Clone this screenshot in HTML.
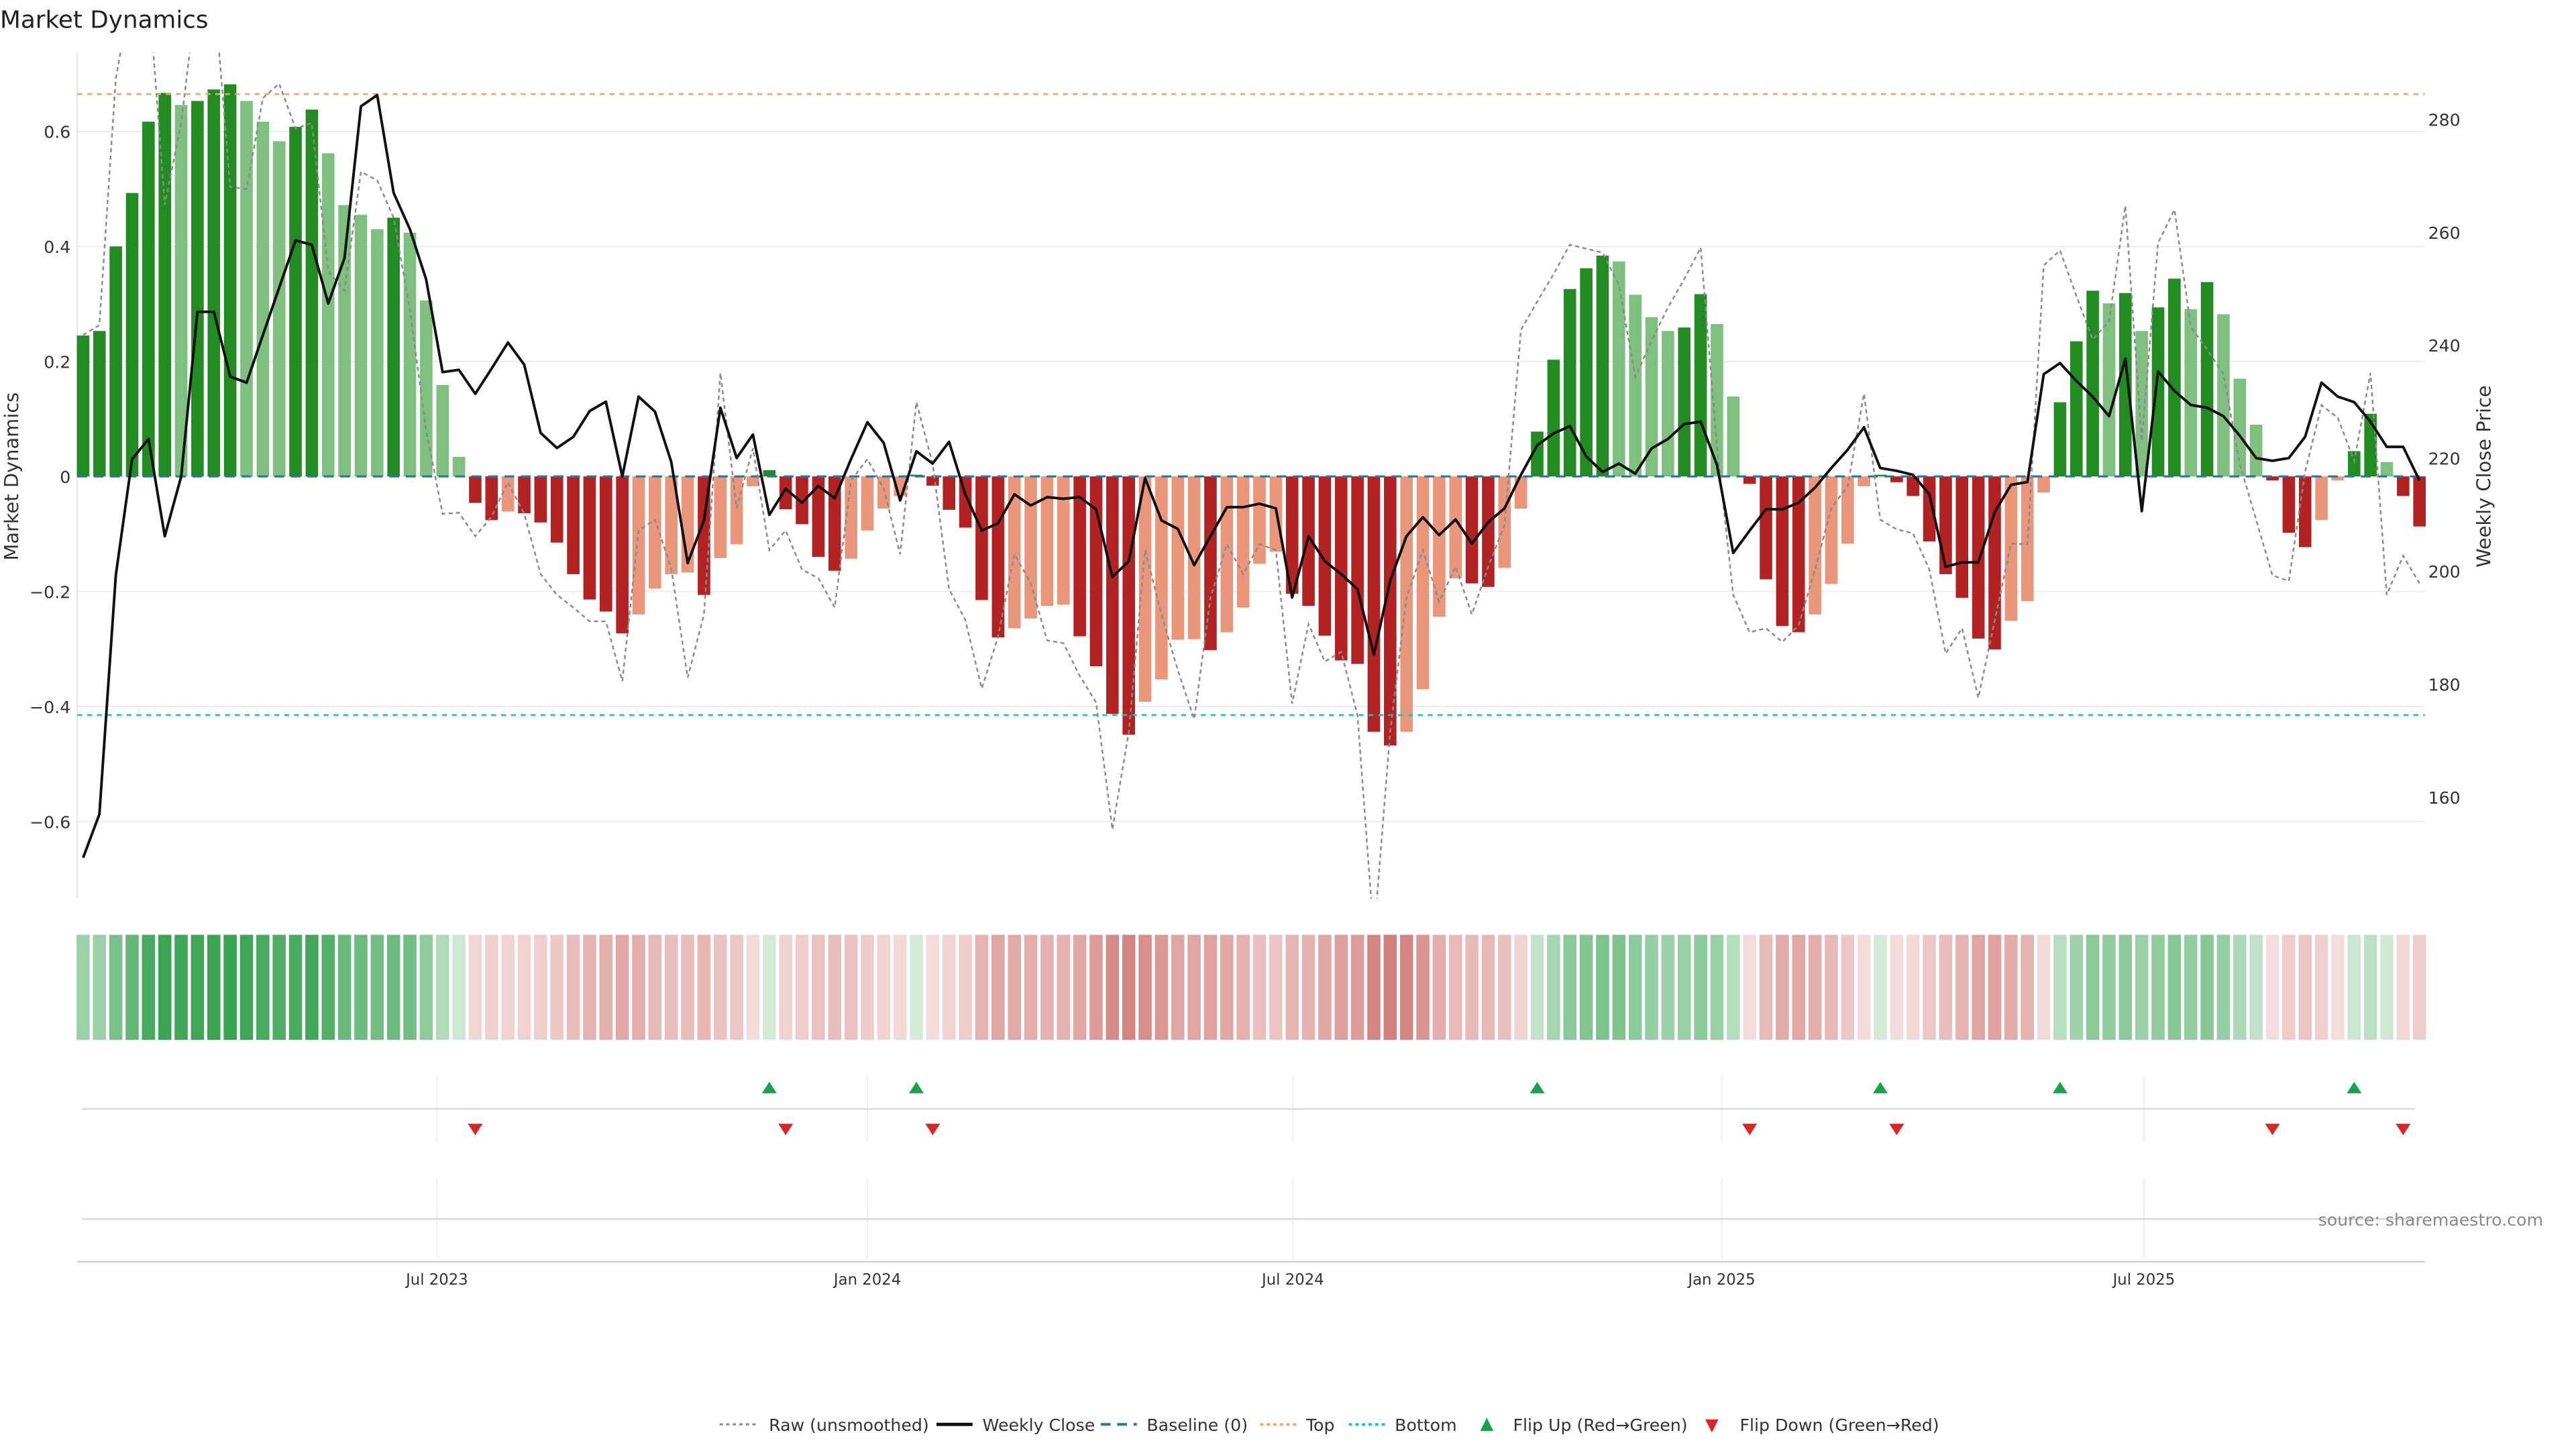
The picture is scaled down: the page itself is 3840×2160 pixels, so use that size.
<!DOCTYPE html>
<html><head><meta charset="utf-8"><style>
html,body{margin:0;padding:0;background:#fff;width:3840px;height:2160px;overflow:hidden}
svg{display:block}
text{font-family:"DejaVu Sans","Liberation Sans",sans-serif;fill:#333}
</style></head><body>
<svg id="s" width="3840" height="2160" viewBox="0 0 1568 882" preserveAspectRatio="none" xmlns="http://www.w3.org/2000/svg">
<defs><clipPath id="cp"><rect x="47" y="32" width="1429" height="515"/></clipPath></defs>
<rect width="1568" height="882" fill="#fff"/>
<text x="0" y="17" font-size="14.6" style="fill:#222">Market Dynamics</text>
<g id="grid"></g>
<g id="bars"></g>
<g id="lines" clip-path="url(#cp)"></g>
<g id="heat"></g>
<g id="flips"></g>
<g font-size="10.3" text-anchor="end">
<text x="43" y="84">0.6</text><text x="43" y="154">0.4</text><text x="43" y="224">0.2</text><text x="43" y="294">0</text>
<text x="43" y="364">−0.2</text><text x="43" y="434">−0.4</text><text x="43" y="504">−0.6</text>
</g>
<g font-size="10.3">
<text x="1478" y="76.5">280</text><text x="1478" y="145.3">260</text><text x="1478" y="214">240</text><text x="1478" y="282.8">220</text>
<text x="1478" y="351.6">200</text><text x="1478" y="420.4">180</text><text x="1478" y="489.2">160</text>
</g>
<text transform="translate(11,290) rotate(-90)" font-size="11.8" text-anchor="middle">Market Dynamics</text>
<text transform="translate(1516,290) rotate(-90)" font-size="11.8" text-anchor="middle">Weekly Close Price</text>
<g font-size="9.3" text-anchor="middle">
<text x="266" y="782">Jul 2023</text><text x="528" y="782">Jan 2024</text><text x="787" y="782">Jul 2024</text>
<text x="1048" y="782">Jan 2025</text><text x="1305" y="782">Jul 2025</text>
</g>
<text x="1548" y="746" font-size="10.3" text-anchor="end" style="fill:#888">source: sharemaestro.com</text>
<g font-size="10.3">
<line x1="438" y1="867" x2="462" y2="867" stroke="#888" stroke-width="1.2" stroke-dasharray="2,2"/>
<text x="468" y="871">Raw (unsmoothed)</text>
<line x1="570" y1="867" x2="592" y2="867" stroke="#111" stroke-width="2"/>
<text x="598" y="871">Weekly Close</text>
<line x1="670" y1="867" x2="692" y2="867" stroke="#1f77b4" stroke-width="1.6" stroke-dasharray="6,4"/>
<text x="698" y="871">Baseline (0)</text>
<line x1="767" y1="867" x2="789" y2="867" stroke="#f4a460" stroke-width="1.4" stroke-dasharray="2,2"/>
<text x="795" y="871">Top</text>
<line x1="821" y1="867" x2="843" y2="867" stroke="#17becf" stroke-width="1.4" stroke-dasharray="2,2"/>
<text x="849" y="871">Bottom</text>
<path d="M901,871 L909,871 L905,863 Z" fill="#16a34a"/>
<text x="921" y="871">Flip Up (Red→Green)</text>
<path d="M1038,864 L1046,864 L1042,872 Z" fill="#dc2626"/>
<text x="1059" y="871">Flip Down (Green→Red)</text>
</g>
</svg>
<script>
var NS="http://www.w3.org/2000/svg";
function el(p,t,a){var e=document.createElementNS(NS,t);for(var k in a)e.setAttribute(k,a[k]);p.appendChild(e);return e;}
var vals=[0.245,0.253,0.40,0.493,0.617,0.667,0.646,0.653,0.673,0.682,0.653,0.617,0.583,0.608,0.638,0.562,0.472,0.455,0.43,0.45,0.424,0.306,0.159,0.034,
-0.046,-0.076,-0.061,-0.064,-0.08,-0.115,-0.17,-0.214,-0.235,-0.273,-0.24,-0.195,-0.17,-0.167,-0.206,-0.142,-0.118,-0.017,0.011,-0.057,-0.083,-0.14,-0.164,-0.143,-0.094,-0.056,-0.034,0.003,-0.016,-0.058,-0.089,-0.215,-0.28,-0.264,-0.247,-0.225,-0.223,-0.278,-0.33,-0.413,-0.449,-0.392,-0.353,-0.284,-0.283,-0.302,-0.271,-0.228,-0.152,-0.131,-0.204,-0.225,-0.277,-0.32,-0.326,-0.444,-0.468,-0.444,-0.37,-0.244,-0.177,-0.186,-0.192,-0.159,-0.056,0.078,0.203,0.326,0.362,0.384,0.374,0.316,0.277,0.253,0.259,0.317,0.265,0.139,-0.013,-0.179,-0.26,-0.271,-0.24,-0.187,-0.117,-0.017,0.003,-0.01,-0.034,-0.113,-0.17,-0.211,-0.282,-0.301,-0.251,-0.217,-0.028,0.129,0.235,0.323,0.301,0.319,0.253,0.294,0.344,0.291,0.338,0.282,0.17,0.09,-0.007,-0.098,-0.123,-0.076,-0.007,0.044,0.109,0.025,-0.034,-0.087];
var light=[6,10,11,12,15,16,17,18,20,21,22,23,26,34,35,36,37,39,40,41,47,48,49,50,57,58,59,60,65,66,67,68,70,71,72,73,81,82,83,84,87,88,94,95,96,97,100,101,106,107,108,109,118,119,120,124,126,129,131,132,133,137,138,141];
var blk=[1466,1388,960,752,716,890,783,488,488,604,615,530,445,360,368,473,392,120,100,275,340,430,596,592,635,590,543,583,705,732,712,666,649,783,640,667,757,938,862,660,750,708,852,805,830,800,822,752,686,723,826,738,760,721,815,880,867,815,835,820,823,820,842,963,935,786,862,877,942,890,838,838,832,840,1000,890,935,958,985,1102,970,890,856,888,860,903,865,840,780,727,706,693,747,775,760,778,733,716,689,685,762,920,880,842,842,830,803,768,735,695,768,773,780,815,945,937,937,847,798,793,600,580,612,640,675,572,845,595,630,655,660,675,710,750,755,750,712,615,640,650,685,730,730,790];
var raw=[0.246,0.263,0.692,0.85,0.85,0.472,0.615,0.85,0.85,0.503,0.5,0.658,0.683,0.605,0.615,0.357,0.323,0.53,0.515,0.45,0.29,0.08,-0.065,-0.063,-0.104,-0.07,-0.01,-0.065,-0.17,-0.206,-0.228,-0.252,-0.252,-0.356,-0.094,-0.075,-0.16,-0.35,-0.24,0.18,-0.055,0.049,-0.128,-0.094,-0.162,-0.177,-0.228,-0.007,0.03,-0.021,-0.135,0.129,0.022,-0.196,-0.25,-0.369,-0.279,-0.135,-0.186,-0.285,-0.29,-0.347,-0.393,-0.614,-0.444,-0.128,-0.24,-0.337,-0.422,-0.211,-0.118,-0.17,-0.118,-0.128,-0.395,-0.257,-0.322,-0.305,-0.415,-0.8,-0.444,-0.211,-0.128,-0.218,-0.157,-0.24,-0.157,-0.084,0.255,0.304,0.352,0.403,0.396,0.389,0.333,0.173,0.236,0.294,0.343,0.398,0.051,-0.206,-0.271,-0.264,-0.288,-0.259,-0.162,-0.055,-0.017,0.144,-0.075,-0.092,-0.099,-0.162,-0.308,-0.264,-0.385,-0.25,-0.117,-0.118,0.367,0.393,0.314,0.238,0.27,0.471,0.061,0.406,0.464,0.26,0.221,0.178,0.022,-0.075,-0.172,-0.182,0.008,0.124,0.102,0.027,0.18,-0.206,-0.138,-0.186];
function X(i){return 50.6+9.945*i;}
function Y(v){return 290-v*350;}
var g=document.getElementById('grid');
[0.6,0.4,0.2,0,-0.2,-0.4,-0.6].forEach(function(v){el(g,'line',{x1:47,x2:1476,y1:Y(v),y2:Y(v),stroke:'#ececec','stroke-width':0.8});});
el(g,'line',{x1:47,x2:47,y1:32,y2:547,stroke:'#e4e4e4','stroke-width':0.8});
var b=document.getElementById('bars');
for(var i=0;i<vals.length;i++){var v=vals[i];var L=light.indexOf(i)>=0;
var c=v>=0?(L?'#7fbf7f':'#228b22'):(L?'#e9967a':'#b22222');
var y0=Y(Math.max(v,0)),h=Math.abs(v)*350;if(h<0.8)h=0.8;
el(b,'rect',{x:X(i)-3.8,y:v>=0?y0:290,width:7.6,height:h,fill:c});}
var ln=document.getElementById('lines');
el(ln,'line',{x1:47,x2:1476,y1:290,y2:290,stroke:'#1f77b4','stroke-width':1.3,'stroke-dasharray':'6,4'});
el(ln,'line',{x1:47,x2:1476,y1:Y(0.665),y2:Y(0.665),stroke:'#f4a460','stroke-width':1.1,'stroke-dasharray':'3,3'});
el(ln,'line',{x1:47,x2:1476,y1:Y(-0.415),y2:Y(-0.415),stroke:'#17becf','stroke-width':1.1,'stroke-dasharray':'3,3'});
var p1='',p2='';
for(var i=0;i<vals.length;i++){p1+=(i?'L':'M')+X(i).toFixed(1)+','+Y(raw[i]).toFixed(1);
p2+=(i?'L':'M')+X(i).toFixed(1)+','+(290-(783-blk[i])/2.943).toFixed(1);}
el(ln,'path',{d:p1,fill:'none',stroke:'#8a8a8a','stroke-width':1,'stroke-dasharray':'2.5,2'});
el(ln,'path',{d:p2,fill:'none',stroke:'#111','stroke-width':1.6,'stroke-linejoin':'round'});
var hm=document.getElementById('heat');
function mix(base,a){return 'rgb('+base.map(function(c){return Math.round(255-(255-c)*a);}).join(',')+')';}
for(var i=0;i<vals.length;i++){var v=vals[i],c;
if(v>=0)c=mix([46,158,72],0.2+0.75*Math.min(v/0.68,1));else c=mix([200,96,92],0.2+0.6*Math.min(-v/0.47,1));
el(hm,'rect',{x:X(i)-4,y:569,width:8,height:64,fill:c});}
var f=document.getElementById('flips');
[266,528,787,1048,1305].forEach(function(x){el(f,'line',{x1:x,x2:x,y1:655,y2:695,stroke:'#eee','stroke-width':0.8});el(f,'line',{x1:x,x2:x,y1:717,y2:766,stroke:'#eee','stroke-width':0.8});});
el(f,'line',{x1:50,x2:1470,y1:675,y2:675,stroke:'#d8d8d8','stroke-width':1});
el(f,'line',{x1:50,x2:1470,y1:742,y2:742,stroke:'#d8d8d8','stroke-width':1});
el(f,'line',{x1:47,x2:1476,y1:768,y2:768,stroke:'#cfcfcf','stroke-width':1});
[42,51,89,110,121,139].forEach(function(i){var x=X(i);el(f,'path',{d:'M'+(x-4.5)+',665.5 L'+(x+4.5)+',665.5 L'+x+',658.5 Z',fill:'#16a34a'});});
[24,43,52,102,111,134,142].forEach(function(i){var x=X(i);el(f,'path',{d:'M'+(x-4.5)+',684 L'+(x+4.5)+',684 L'+x+',691 Z',fill:'#dc2626'});});
</script>
</body></html>
